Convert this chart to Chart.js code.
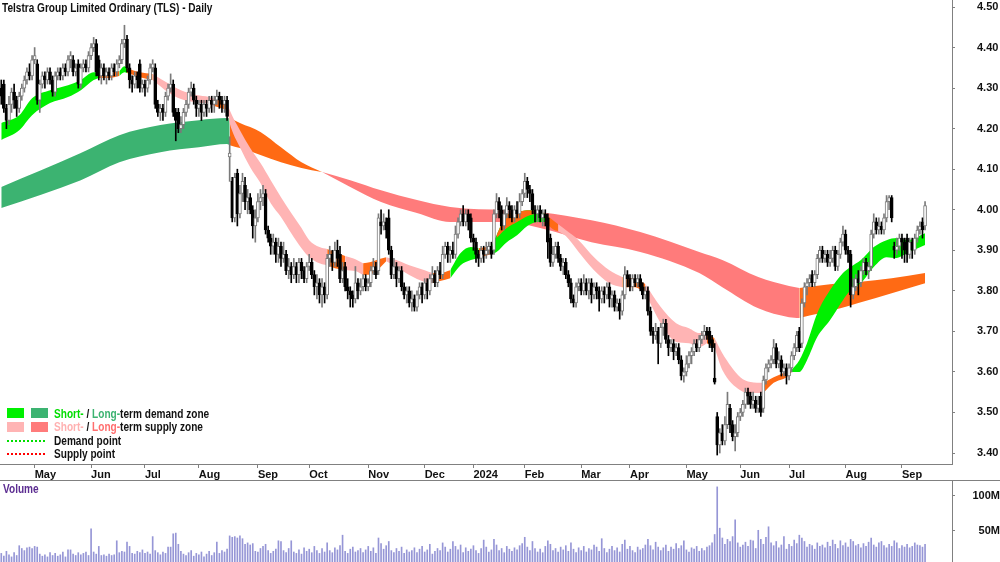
<!DOCTYPE html>
<html><head><meta charset="utf-8">
<script src="https://cdn.jsdelivr.net/npm/chart.js@4.4.1/dist/chart.umd.min.js"></script>
<style>
html,body{margin:0;padding:0;width:1000px;height:562px;overflow:hidden;background:#fff;}
#wrap{position:relative;width:1000px;height:562px;overflow:hidden;}
canvas{position:absolute;left:0;}
.t{position:absolute;white-space:nowrap;font-weight:bold;color:#111;transform-origin:0 50%;}
.sw{position:absolute;width:17px;height:10px;}
.dots{position:absolute;width:38px;height:2px;}
</style></head><body><div id="wrap">
<canvas id="price" width="1000" height="481" style="top:0"></canvas>
<canvas id="vol" width="1000" height="85" style="top:481px"></canvas>
<div style="position:absolute;left:0;top:480px;width:1000px;height:1px;background:#808080"></div>
<div id="title" class="t" style="left:2px;top:2px">Telstra Group Limited Ordinary (TLS) - Daily</div>
<div class="sw" style="left:7px;top:408px;background:#00f000"></div>
<div class="sw" style="left:31px;top:408px;background:#3cb371"></div>
<div class="sw" style="left:7px;top:422px;background:#ffb4b4"></div>
<div class="sw" style="left:31px;top:422px;background:#ff7b7b"></div>
<div class="dots" style="left:7px;top:440px;background:repeating-linear-gradient(90deg,#00e000 0 2px,transparent 2px 4px)"></div>
<div class="dots" style="left:7px;top:453px;background:repeating-linear-gradient(90deg,#ff0000 0 2px,transparent 2px 4px)"></div>
<div class="t lg" style="left:54px;top:408px"><span style="color:#00dd00">Short-</span> / <span style="color:#3cb371">Long-</span>term demand zone</div>
<div class="t lg" style="left:54px;top:421px"><span style="color:#ffb0b0">Short-</span> / <span style="color:#ff6e6e">Long-</span>term supply zone</div>
<div class="t lg" style="left:54px;top:435px">Demand point</div>
<div class="t lg" style="left:54px;top:448px">Supply point</div>
<div id="vlab" class="t" style="left:3px;top:483px;color:#5c2d91">Volume</div>
</div>
<script>
// ---------- data (prices in cents) ----------
const opens = [
430,431,425,422,426,429,427,425,428,430,
432,434,433,437,436,427,431,433,432,434,
432,429,433,434,433,435,434,437,437,434,
436,431,435,436,435,438,440,441,437,433,
435,433,434,433,435,434,436,437,441,442,
435,432,431,433,436,430,431,430,432,435,
435,426,424,425,424,428,430,431,424,424,
420,421,424,426,429,430,427,425,426,424,
426,425,427,426,427,428,427,426,427,413,
407,398,409,399,404,406,402,403,400,396,
398,402,403,404,395,393,391,392,389,391,
388,389,385,386,384,386,384,387,385,383,
386,387,384,381,382,379,381,379,388,389,
387,390,389,383,386,381,380,379,378,382,
380,381,383,381,382,385,386,385,397,396,
397,398,390,384,386,383,385,381,379,380,
377,378,376,379,381,379,382,380,383,384,
382,385,384,389,391,389,390,389,394,397,
399,397,399,398,393,392,389,388,390,389,
390,391,390,399,402,400,396,399,401,400,
398,400,399,402,404,407,405,404,400,399,
400,398,399,398,393,387,389,391,388,386,
387,384,382,378,377,381,382,380,382,380,
382,379,381,380,378,380,379,381,378,379,
376,377,375,379,384,383,381,383,382,383,
381,379,380,375,370,369,370,367,371,372,
368,366,367,365,366,363,359,360,362,364,
365,367,366,368,369,370,370,368,358.5,349,
342,345,343,347,351,347,344,345,349,350,
352,355,354,352,353,351,354,351,358,361,
362,363,366,362,363,360,361,359,361,364,
366,370,367,377,381,382,384,382,384,388,
390,388,389,387,388,390,386,389,392,394,
390,389,379,381,383,382,385,387,385,386,
394,397,395,396,395,398,402,403,391,390,
391,393,392,393,389,392,390,393,395,397,396];
const highs = [
432,432,426,428,430,431,428,429,431,433,
435,436,438,440,437,432,434,434,435,435,
433,434,435,435,436,436,438,439,438,436,
437,436,437,437,439,441,442.5,442,438,436,
436,435,435,436,436,437,438,442,445.5,443,
436,433,434,434,437,432,432,433,436,437,
436,427,426,426,429,431,433.5,432,425,425,
423,425,427,430,431.5,431,428,427,427,427,
427,428,428,428,429.5,429,428,428,428,418,
408,409,410,406,409,408,405,404,401,400,
404,405,406,405,396,394,394,393,393,392,
392,390,388,387,388,387,388,388,386,387,
389,388,385,384,383,383,382,389,391,390,
392,392.5,391,387,387,383,381,380,386,383,
383,384,384,383,386,388,387,399,400,399,
398,400,391,388,387,386,386,382,381,381,
380,379,380,382,382,383,383,384,386,385,
386,387,391,392,392,391,392,396,398,400,
401,400,400,399,394,393,390,391,391,392,
392,392,400,404,403,401,400,403,402,401,
401,402,404,405,409,408,406,405,401,401,
401,400,400,399,394,391,392,392,389,388,
388,385,383,379,382,383,383,384,383,383,
383,382,382,381,381,381,382,382,380,380,
378,378,380,386,385,384,384,384,384,384,
382,381,381,376,371,372,371,372,373,373,
369,368,368,367,367,364,361,364,365,366,
368,368,369,370,371.5,371,371,369,367,350,
346,347,349,355,352,348,347,350,351,353,
356,356,355,355,354,354,355,359,362,363,
364,368,367,365,364,362,362,362,365,367,
370,371,378,382,383,384,385,385,389,391,
391,390,390,390,391,391,390,393,396,395,
391,390,383,384,385,386,388,388,387,395,
399,398,398,397,399,403.5,403.5,403.5,392,393,
394,394,393,394,393,393,394,396,397,398,402];
const lows = [
426,424,420,421,424,425,423,424,427,429,
431,432,432,436,426,424,430,430,431,431,
428,428,432,432,432,433,433,435,433,433,
430,430,434,434,434,437,439,433,432,431,
432,431,432,432,433,433,435,436,440,434,
430,429,430,430,429,429,428,429,431,434,
425,423,422,422,423,427,429,423,417,419,
419,420,423,425,428,426,423,423,422,423,
423,424,424,424,426,425,424,424,422,407,
397,397,396,398,402,400,399,399,393,392,
397,400,401,394,392,389,389,387,387,386,
387,384,383,382,383,382,382,383,382,382,
385,383,379,378,377,376,377,378,386,385,
386,386,382,382,380,378,376,376,377,378,
379,380,380,380,381,384,383,384,394,395,
393,389,383,383,381,382,380,378,377,376,
375,375,375,378,377,378,378,379,382,381,
381,383,383,388,387,387,388,388,393,396,
396,396,395,392,390,387,386,387,387,388,
389,388,389,398,398,395,395,398,398,397,
397,398,398,401,403,403,402,399,397,397,
397,396,396,388,386,386,388,387,385,384,
383,381,377,376,376,380,379,379,379,378,
377,378,378,375,377,377,378,376,376,375,
375,373,374,378,381,380,380,381,381,380,
378,378,374,369,367,368,362,366,369,367,
364,365,363,364,362,358,357.5,359,361,362,
364,365,365,367,368,368,366,365,357,339.5,
340,342,342,346,345,343,340.5,344,348,349,
351,352,351,351,350,350,349,350,357,360,
361,362,361,361,359,359,357,358,360,363,
365,365,366,376,379,381,381,381,383,387,
387,387,386,386,387,385,385,388,391,389,
387,376,378,380,379,381,384,384,383,385,
393,394,394,394,394,397,400,397,388,389,
390,388,387,387,388,388,389,392,394,393,395];
const closes = [
428,425,422,426,429,427,425,428,430,432,
434,433,437,438,427,431,433,432,434,432,
429,433,434,433,435,434,437,438,434,435,
431,435,436,435,438,440,441,434,433,435,
433,434,433,435,434,436,437,441,442,435,
432,431,433,432,430,431,430,432,435,436,
426,424,425,424,428,430,431,424,422,420,
421,424,426,429,430,427,425,426,424,426,
425,427,426,427,428,427,426,427,423,414,
398,408,399,404,407,402,403,400,396,398,
402,403,404,395,393,391,392,389,391,388,
389,385,386,384,386,384,387,385,383,386,
387,384,381,382,379,381,379,388,389,387,
390,388,383,385,381,380,379,378,382,380,
381,383,381,382,385,386,384,398,396,397,
395,390,384,386,383,385,381,379,380,377,
378,376,379,381,379,382,380,383,384,382,
385,384,389,391,389,390,389,394,397,399,
397,399,397,393,392,389,388,390,389,390,
391,389,399,402,400,396,399,401,400,398,
400,399,402,404,407,405,404,400,399,400,
398,399,398,392,387,389,391,388,386,387,
384,382,378,377,381,382,380,382,380,382,
379,381,380,378,380,379,381,378,379,376,
377,375,379,384,383,381,383,382,383,381,
379,380,375,370,369,370,367,371,372,368,
366,367,365,366,363,359,360,362,364,365,
367,366,368,369,370,369,367,366,357.5,342,
345,343,347,352,347,344,345,349,350,352,
355,354,352,353,351,352,350,358,361,362,
363,366,362,363,360,361,359,361,364,366,
369,366,377,381,382,383,382,384,388,390,
388,389,387,388,390,386,389,392,394,390,
389,379,381,383,382,385,387,385,386,394,
397,395,396,395,398,402,403,398,390,391,
393,392,390,389,392,390,393,395,396,395,401];
// volume in millions
const volumes = [
18,14,21,16,13,19,15,29,25,22,
26,27,25,28,27,17,14,16,13,19,
15,18,14,16,20,13,23,23,17,15,
19,16,18,20,15,53,20,17,28,15,
16,14,17,15,16,36,19,21,20,34,
28,18,17,21,19,23,18,20,17,42,
22,19,16,20,18,27,27,46,47,31,
21,17,15,19,22,14,18,16,20,13,
17,21,15,19,34,18,22,20,24,43,
41,42,40,43,39,31,33,30,32,21,
20,25,28,31,22,18,21,24,36,35,
22,19,25,36,20,18,23,17,26,21,
24,19,28,22,18,25,20,33,22,19,
26,23,29,44,21,18,24,27,20,22,
25,19,23,28,21,26,18,40,32,24,
29,35,22,19,25,21,27,18,23,20,
22,26,19,24,28,20,23,31,17,21,
25,22,33,27,20,24,35,28,23,30,
19,26,21,24,29,22,18,25,37,27,
20,23,38,30,22,25,19,28,24,21,
26,23,29,32,41,27,22,35,25,20,
24,19,28,36,31,22,25,20,27,23,
29,21,33,24,19,26,22,28,20,25,
23,30,27,21,39,25,19,24,28,22,
26,20,31,37,24,28,22,19,27,23,
25,30,38,29,23,34,27,22,26,30,
21,27,24,32,25,29,36,23,20,26,
24,28,21,25,22,27,29,33,45,113,
54,40,31,38,35,42,66,33,27,30,
34,28,37,36,25,51,38,31,41,56,
33,29,35,26,30,42,24,31,28,37,
32,44,40,35,27,31,29,24,33,28,
30,26,34,28,37,31,25,36,29,33,
27,38,35,29,31,26,32,28,34,40,
30,27,33,35,29,26,31,28,36,33,
25,29,27,31,26,28,33,30,29,27,31];
// short-term zone (anchor bar index, upper / lower edge in cents, zone code of following stretch)
const stIdx = [0,7,12,19,26,31,36,38,42,46,48,49,54,59,65,70,76,81,83,88,89,93,97,101,105,109,113,117,120,124,127,130,134,138,141,144,147,150,153,156,159,165,168,171,175,179,183,186,191,193,197,201,205,209,212,215,217,220,225,231,237,242,247,251,257,263,268,272,275,278,281,288,292,297,301,306,308,311,314,318,323,328,331,335,340,345,349,353,360];
const stTop = [421.4,423.3,427.5,429.5,430.7,432.0,433.9,433.9,433.9,434.2,435.4,434.9,433.9,433.5,431.2,429.5,428.3,427.8,427.3,426.5,424.6,419.6,415.2,411.5,407.3,403.1,399.2,395.5,392.5,390.8,390.3,389.6,388.6,387.8,386.8,387.1,387.8,388.3,387.8,387.1,386.3,385.1,384.4,384.4,385.1,389.3,390.8,390.5,391.0,393.7,398.7,399.4,399.9,399.7,398.9,397.4,396.4,395.0,392.5,388.3,385.1,383.4,382.9,381.7,376.0,372.0,370.8,369.6,369.6,368.3,364.6,358.7,357.5,357.3,358.7,360.0,360.5,362.9,367.1,374.5,380.2,384.4,385.9,387.6,390.8,392.5,393.0,392.5,394.2];
const stBot = [417.2,419.6,423.3,426.3,427.8,429.5,432.0,432.5,432.5,433.0,433.9,433.7,432.7,432.0,429.0,427.3,426.5,426.1,425.6,424.6,421.4,415.4,410.5,406.6,401.6,398.2,394.2,390.5,388.3,386.8,386.3,385.6,385.1,384.9,383.9,384.1,385.4,387.3,386.3,385.1,383.9,382.2,381.9,382.4,383.1,386.3,387.6,388.1,389.1,389.6,392.0,393.7,396.0,397.0,397.0,395.2,394.7,393.5,389.6,385.1,381.9,380.9,380.9,379.4,372.0,367.4,367.1,366.1,367.1,365.9,360.5,355.5,354.8,354.8,357.3,358.7,360.0,360.0,362.9,368.6,372.8,377.7,380.2,381.9,385.9,388.3,388.1,389.3,391.3];
const stZone = ("GGGGGGGOOG"+"GOOPPPPPOP"+"PPPPPPPPPP"+"OOPPOOOPPP"+"PPOOGGGOGG"+"GGGGOOPPPP"+"POOPPPPPOP"+"PPPOOOGGGG"+"GGGGGGGGG").split("");
// orange upper part of the short-term zone in Jan 2024
const ovIdx = [193,197,201,205,209];
const ovTop = [393.7,398.7,399.4,399.9,399.7];
const ovBot = [393.0,395.5,397.0,398.4,399.2];
// long-term zone
const ltIdx = [0,31,46,62,77,88,89,93,101,109,117,125,136,148,162,175,197,210,230,249,272,281,295,307,311,327,334,347,360];
const ltTop = [405.6,414.0,418.4,420.9,422.1,422.6,422.6,421.4,419.2,415.4,411.7,409.3,407.3,404.8,402.4,400.7,399.9,399.4,397.4,394.5,389.6,387.6,383.4,381.2,380.7,381.9,382.2,383.1,384.4];
const ltBot = [400.4,407.3,411.7,414.2,415.4,416.2,415.9,415.2,413.5,411.7,410.3,409.3,405.6,401.9,399.2,397.0,397.0,395.5,392.0,389.6,384.4,380.9,375.7,373.5,373.3,375.7,377.0,379.4,381.9];
const ltZone = ("DDDDDD"+"OOOOO"+"SSSSSSSSSSSSS"+"OOOOO").split("");
const monthLabels = ['May','Jun','Jul','Aug','Sep','Oct','Nov','Dec','2024','Feb','Mar','Apr','May','Jun','Jul','Aug','Sep'];
const monthIdx = [13,35,56,77,100,120,143,165,184,204,226,245,267,288,307,329,351];
const priceTicks = [3.4,3.5,3.6,3.7,3.8,3.9,4.0,4.1,4.2,4.3,4.4,4.5];
const volTicks = [50,100];

// ---------- fonts ----------
function hasFont(f){const c=document.createElement('canvas').getContext('2d');const s='abcdefghijMWL0123456789';c.font='32px monospace';const w1=c.measureText(s).width;c.font='32px "'+f+'", monospace';return c.measureText(s).width!==w1;}
const NARROW = hasFont('Liberation Sans Narrow');
const FAM = NARROW ? '"Liberation Sans Narrow", "Liberation Sans", Arial, sans-serif' : '"Liberation Sans", Arial, sans-serif';
const FS = NARROW ? 12 : 11;
document.querySelectorAll('.t').forEach(el=>{
  el.style.fontFamily=FAM; el.style.fontSize='12px'; el.style.lineHeight='12px';
  if(!NARROW) el.style.transform='scaleX(0.84)';
});
Chart.defaults.font.family = FAM;

// ---------- build ----------
const COLORS = {G:'#00f000', D:'#3cb371', P:'#ffb4b4', S:'#ff7b7b', O:'#ff6a14'};
const NSLOT = 371;
function lineDs(pts, fill, color){
  return {type:'line', data:pts, borderColor:'rgba(0,0,0,0)', borderWidth:0, pointRadius:0,
    fill:fill, backgroundColor:color||'rgba(0,0,0,0)', cubicInterpolationMode:'monotone'};
}
function bandSets(idx, top, bot, zones){
  const sets = []; let s = 0; const n = idx.length;
  while (s < n-1){
    let e = s;
    while (e+1 <= n-2 && zones[e+1] === zones[s]) e++;
    const end = e+1, tp = [], bp = [];
    for (let k=s;k<=end;k++){ tp.push({x:idx[k], y:top[k]/100}); bp.push({x:idx[k], y:bot[k]/100}); }
    sets.push(lineDs(bp,false,null), lineDs(tp,'-1',COLORS[zones[s]]));
    s = end;
  }
  return sets;
}
const isUp = closes.map((c,i)=>c>=opens[i]);
const bodies = opens.map((o,i)=>({x:i, y:[Math.min(o,closes[i])/100, Math.max(o,closes[i])/100]}));
const wicks = opens.map((o,i)=>({x:i, y:[lows[i]/100, highs[i]/100]}));

const datasets = [
  {type:'bar', data:bodies, barThickness:3, grouped:false, borderSkipped:false, borderWidth:1,
   backgroundColor:isUp.map(u=>u?'#ffffff':'#000000'), borderColor:isUp.map(u=>u?'#7a7a7a':'#000000'), minBarLength:1},
  {type:'bar', data:wicks, barThickness:1, grouped:false, borderWidth:0,
   backgroundColor:isUp.map(u=>u?'#7a7a7a':'#000000')},
  lineDs(ovIdx.map((x,k)=>({x, y:ovBot[k]/100})), false, null),
  lineDs(ovIdx.map((x,k)=>({x, y:ovTop[k]/100})), '-1', COLORS.O),
  ...bandSets(stIdx, stTop, stBot, stZone),
  ...bandSets(ltIdx, ltTop, ltBot, ltZone)
];

const tickFont = {family:FAM, size:FS, weight:'bold'};
new Chart(document.getElementById('price'), {
  type:'bar',
  data:{datasets},
  options:{
    responsive:false, animation:false, events:[],
    layout:{padding:0},
    plugins:{legend:{display:false}, tooltip:{enabled:false}},
    scales:{
      x:{type:'linear', min:-0.5, max:NSLOT-0.5, offset:false, position:'bottom',
        afterBuildTicks:s=>{ s.ticks = monthIdx.map(v=>({value:v})); },
        afterFit:s=>{ s.height = 17; s.paddingLeft = 0; s.paddingRight = 0; },
        ticks:{autoSkip:false, maxRotation:0, minRotation:0, align:'start', padding:0, font:tickFont, color:'#111',
          callback:(v,i)=>monthLabels[i]},
        grid:{drawOnChartArea:false, drawTicks:true, tickLength:4, color:'#808080', offset:false},
        border:{display:true, color:'#808080'}},
      y:{type:'linear', position:'right', min:3.3729, max:4.5173,
        afterBuildTicks:s=>{ s.ticks = priceTicks.map(v=>({value:v})); },
        afterFit:s=>{ s.width = 48; s.paddingTop = 0; s.paddingBottom = 0; },
        ticks:{padding:22, font:tickFont, color:'#111', callback:v=>Number(v).toFixed(2)},
        grid:{drawOnChartArea:false, drawTicks:true, tickLength:3, color:'#808080'},
        border:{display:true, color:'#808080'}}
    }
  }
});

new Chart(document.getElementById('vol'), {
  type:'bar',
  data:{datasets:[{data:volumes.map((v,i)=>({x:i, y:v})), barThickness:1, backgroundColor:'#9696d6', borderWidth:0}]},
  options:{
    responsive:false, animation:false, events:[],
    layout:{padding:0},
    plugins:{legend:{display:false}, tooltip:{enabled:false}},
    scales:{
      x:{type:'linear', min:-0.5, max:NSLOT-0.5, offset:false, display:false},
      y:{type:'linear', position:'right', min:0, max:121.4,
        afterBuildTicks:s=>{ s.ticks = volTicks.map(v=>({value:v})); },
        afterFit:s=>{ s.width = 48; s.paddingTop = 0; s.paddingBottom = 0; },
        ticks:{padding:16, crossAlign:'far', font:tickFont, color:'#111', callback:v=>v+'M'},
        grid:{drawOnChartArea:false, drawTicks:true, tickLength:3, color:'#808080'},
        border:{display:true, color:'#808080'}}
    }
  }
});
</script>
</body></html>
